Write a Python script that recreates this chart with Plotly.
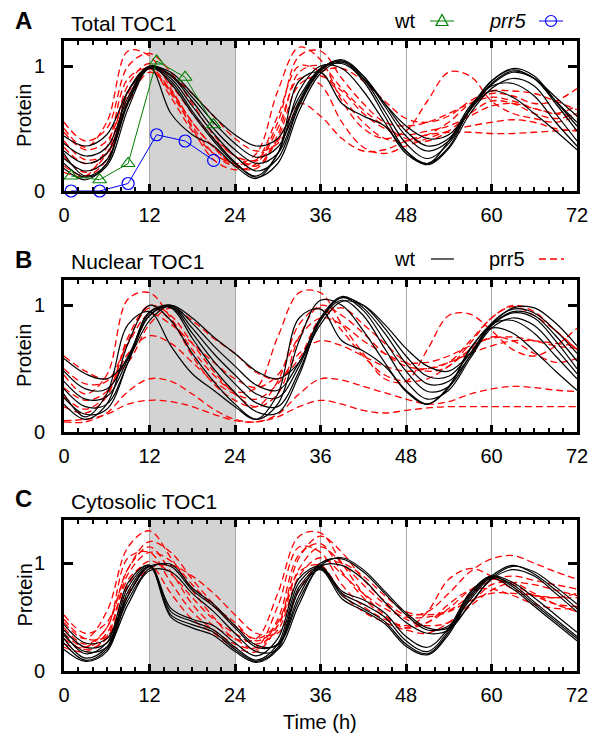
import plotly.graph_objects as go

W, H = 593, 738

# model time grid (h) and measured sampling times
T = list(range(0, 73, 3))
T_DATA = [1, 5, 9, 13, 17, 21]

# panel A: measured total TOC1
a_wt_data = [0.12, 0.09, 0.22, 1.04, 0.91, 0.53]
a_prr5_data = [0.0, 0.0, 0.06, 0.45, 0.40, 0.245]

# panel A: total TOC1, model fits (wt solid, prr5 dashed)
a_wt = [
    [0.30, 0.12, 0.22, 0.80, 0.99, 0.62, 0.45, 0.36, 0.20, 0.10, 0.30, 0.88, 0.95, 0.70, 0.60, 0.52, 0.32, 0.22, 0.35, 0.65, 0.80, 0.75, 0.62, 0.48, 0.33],
    [0.44, 0.36, 0.45, 0.80, 0.99, 0.95, 0.78, 0.60, 0.45, 0.36, 0.42, 0.75, 0.98, 1.02, 0.90, 0.70, 0.52, 0.42, 0.45, 0.65, 0.85, 0.95, 0.90, 0.75, 0.60],
    [0.38, 0.28, 0.35, 0.75, 1.00, 0.93, 0.75, 0.55, 0.38, 0.27, 0.35, 0.72, 0.98, 1.04, 0.92, 0.70, 0.48, 0.36, 0.42, 0.66, 0.88, 0.97, 0.90, 0.72, 0.55],
    [0.32, 0.22, 0.30, 0.72, 0.99, 0.92, 0.72, 0.50, 0.33, 0.22, 0.30, 0.70, 0.97, 1.05, 0.92, 0.68, 0.44, 0.32, 0.40, 0.66, 0.88, 0.98, 0.92, 0.72, 0.52],
    [0.26, 0.16, 0.25, 0.70, 0.99, 0.90, 0.68, 0.46, 0.28, 0.16, 0.26, 0.68, 0.96, 1.04, 0.90, 0.64, 0.38, 0.26, 0.38, 0.65, 0.86, 0.96, 0.90, 0.70, 0.48],
    [0.22, 0.11, 0.20, 0.66, 0.98, 0.88, 0.64, 0.42, 0.23, 0.11, 0.22, 0.64, 0.94, 1.03, 0.88, 0.60, 0.32, 0.21, 0.34, 0.62, 0.82, 0.90, 0.84, 0.62, 0.40],
    [0.18, 0.09, 0.22, 0.72, 1.00, 0.86, 0.62, 0.40, 0.22, 0.12, 0.30, 0.80, 1.00, 0.98, 0.80, 0.55, 0.30, 0.22, 0.40, 0.68, 0.84, 0.86, 0.76, 0.55, 0.36],
]
a_prr5 = [
    [0.50, 0.35, 0.55, 1.12, 1.08, 0.82, 0.55, 0.35, 0.22, 0.30, 0.80, 1.15, 1.05, 0.72, 0.50, 0.42, 0.48, 0.72, 0.95, 0.92, 0.72, 0.62, 0.58, 0.55, 0.60],
    [0.55, 0.40, 0.50, 1.00, 1.10, 0.95, 0.70, 0.45, 0.28, 0.25, 0.55, 1.08, 1.12, 0.90, 0.70, 0.55, 0.52, 0.55, 0.62, 0.70, 0.75, 0.72, 0.66, 0.62, 0.60],
    [0.40, 0.25, 0.30, 0.70, 0.95, 0.80, 0.50, 0.25, 0.17, 0.22, 0.50, 0.90, 0.85, 0.55, 0.35, 0.30, 0.36, 0.42, 0.48, 0.52, 0.55, 0.57, 0.55, 0.50, 0.48],
    [0.35, 0.22, 0.30, 0.75, 0.98, 0.75, 0.48, 0.30, 0.22, 0.24, 0.40, 0.70, 0.60, 0.42, 0.32, 0.33, 0.40, 0.45, 0.47, 0.47, 0.46, 0.46, 0.47, 0.48, 0.49],
    [0.47, 0.33, 0.40, 0.80, 1.00, 0.92, 0.78, 0.60, 0.42, 0.32, 0.38, 0.70, 0.95, 0.98, 0.88, 0.72, 0.58, 0.55, 0.60, 0.72, 0.80, 0.80, 0.78, 0.72, 0.65],
    [0.28, 0.15, 0.30, 0.85, 1.02, 0.85, 0.62, 0.42, 0.28, 0.20, 0.45, 0.95, 1.00, 0.82, 0.65, 0.52, 0.42, 0.40, 0.48, 0.62, 0.72, 0.70, 0.62, 0.58, 0.62],
    [0.20, 0.12, 0.25, 0.78, 0.99, 0.80, 0.55, 0.35, 0.20, 0.18, 0.42, 0.85, 0.92, 0.80, 0.62, 0.50, 0.45, 0.48, 0.52, 0.60, 0.68, 0.70, 0.66, 0.62, 0.68],
    [0.15, 0.12, 0.35, 0.90, 0.98, 0.78, 0.52, 0.30, 0.20, 0.25, 0.60, 1.00, 0.95, 0.75, 0.55, 0.42, 0.40, 0.45, 0.55, 0.70, 0.78, 0.76, 0.70, 0.72, 0.82],
]

# panel B: nuclear TOC1
b_wt = [
    [0.30, 0.12, 0.30, 0.85, 0.95, 0.68, 0.46, 0.33, 0.20, 0.10, 0.30, 0.90, 0.97, 0.72, 0.64, 0.52, 0.33, 0.22, 0.35, 0.66, 0.82, 0.78, 0.64, 0.48, 0.33],
    [0.58, 0.46, 0.42, 0.58, 0.88, 1.00, 0.90, 0.75, 0.62, 0.48, 0.42, 0.55, 0.85, 1.03, 1.00, 0.85, 0.66, 0.52, 0.48, 0.62, 0.85, 0.98, 0.98, 0.86, 0.68],
    [0.48, 0.34, 0.34, 0.60, 0.92, 1.00, 0.86, 0.68, 0.52, 0.37, 0.33, 0.55, 0.90, 1.06, 1.00, 0.82, 0.60, 0.44, 0.44, 0.62, 0.86, 0.97, 0.94, 0.80, 0.62],
    [0.40, 0.26, 0.28, 0.58, 0.94, 1.00, 0.82, 0.62, 0.45, 0.30, 0.27, 0.52, 0.90, 1.07, 0.98, 0.78, 0.54, 0.38, 0.40, 0.60, 0.84, 0.95, 0.92, 0.76, 0.56],
    [0.34, 0.20, 0.22, 0.55, 0.92, 0.99, 0.78, 0.56, 0.38, 0.23, 0.20, 0.48, 0.88, 1.06, 0.96, 0.72, 0.48, 0.32, 0.36, 0.60, 0.84, 0.94, 0.90, 0.72, 0.50],
    [0.27, 0.14, 0.18, 0.55, 0.95, 0.98, 0.74, 0.50, 0.31, 0.16, 0.15, 0.45, 0.88, 1.04, 0.92, 0.66, 0.40, 0.26, 0.33, 0.58, 0.82, 0.90, 0.84, 0.66, 0.46],
    [0.22, 0.10, 0.22, 0.70, 1.00, 0.88, 0.62, 0.40, 0.22, 0.10, 0.22, 0.72, 1.04, 1.00, 0.80, 0.55, 0.32, 0.22, 0.36, 0.65, 0.85, 0.88, 0.78, 0.60, 0.42],
]
b_prr5 = [
    [0.45, 0.30, 0.45, 1.05, 1.10, 0.90, 0.65, 0.45, 0.32, 0.35, 0.75, 1.10, 1.10, 0.85, 0.62, 0.42, 0.40, 0.65, 0.92, 0.93, 0.80, 0.65, 0.60, 0.68, 0.82],
    [0.60, 0.48, 0.42, 0.55, 0.85, 0.98, 0.88, 0.74, 0.62, 0.47, 0.42, 0.58, 0.90, 0.98, 0.85, 0.70, 0.55, 0.48, 0.52, 0.70, 0.90, 0.99, 0.92, 0.80, 0.65],
    [0.50, 0.38, 0.40, 0.70, 0.93, 0.85, 0.70, 0.55, 0.42, 0.35, 0.45, 0.75, 0.90, 0.85, 0.72, 0.62, 0.55, 0.55, 0.60, 0.68, 0.74, 0.75, 0.72, 0.68, 0.66],
    [0.35, 0.25, 0.32, 0.62, 0.76, 0.70, 0.55, 0.40, 0.30, 0.26, 0.38, 0.62, 0.72, 0.68, 0.60, 0.52, 0.48, 0.50, 0.55, 0.62, 0.68, 0.72, 0.72, 0.70, 0.68],
    [0.28, 0.18, 0.30, 0.72, 0.98, 0.88, 0.60, 0.38, 0.25, 0.20, 0.40, 0.85, 0.98, 0.80, 0.60, 0.45, 0.40, 0.42, 0.52, 0.65, 0.75, 0.72, 0.62, 0.55, 0.58],
    [0.20, 0.15, 0.28, 0.75, 1.00, 0.92, 0.70, 0.48, 0.30, 0.20, 0.30, 0.75, 1.00, 0.92, 0.78, 0.62, 0.52, 0.50, 0.55, 0.72, 0.90, 1.00, 0.95, 0.80, 0.65],
    [0.08, 0.08, 0.15, 0.32, 0.42, 0.40, 0.30, 0.18, 0.10, 0.08, 0.14, 0.30, 0.42, 0.41, 0.36, 0.31, 0.26, 0.22, 0.24, 0.30, 0.34, 0.36, 0.35, 0.33, 0.32],
    [0.09, 0.10, 0.14, 0.22, 0.25, 0.24, 0.20, 0.14, 0.09, 0.08, 0.12, 0.20, 0.25, 0.22, 0.17, 0.15, 0.17, 0.19, 0.20, 0.20, 0.20, 0.20, 0.20, 0.20, 0.20],
]

# panel C: cytosolic TOC1
c_wt = [
    [0.30, 0.12, 0.22, 0.78, 0.98, 0.55, 0.46, 0.38, 0.22, 0.10, 0.25, 0.82, 0.96, 0.72, 0.62, 0.50, 0.28, 0.18, 0.38, 0.72, 0.88, 0.78, 0.62, 0.46, 0.30],
    [0.26, 0.10, 0.20, 0.74, 0.97, 0.52, 0.43, 0.36, 0.20, 0.09, 0.22, 0.78, 0.95, 0.70, 0.58, 0.46, 0.25, 0.16, 0.36, 0.70, 0.87, 0.80, 0.64, 0.48, 0.32],
    [0.35, 0.16, 0.26, 0.82, 0.98, 0.58, 0.48, 0.42, 0.26, 0.14, 0.30, 0.86, 0.97, 0.74, 0.66, 0.54, 0.32, 0.22, 0.40, 0.73, 0.88, 0.82, 0.68, 0.52, 0.36],
    [0.20, 0.09, 0.18, 0.70, 0.97, 0.50, 0.40, 0.33, 0.18, 0.08, 0.20, 0.75, 0.94, 0.67, 0.56, 0.44, 0.23, 0.15, 0.34, 0.68, 0.86, 0.76, 0.60, 0.44, 0.28],
    [0.43, 0.26, 0.30, 0.70, 0.97, 0.97, 0.75, 0.60, 0.40, 0.22, 0.25, 0.70, 1.00, 1.04, 0.92, 0.72, 0.52, 0.38, 0.42, 0.66, 0.88, 0.98, 0.90, 0.75, 0.58],
    [0.38, 0.22, 0.26, 0.66, 0.95, 0.99, 0.77, 0.62, 0.42, 0.24, 0.24, 0.66, 0.98, 1.05, 0.94, 0.74, 0.54, 0.40, 0.40, 0.62, 0.86, 0.97, 0.92, 0.78, 0.62],
    [0.33, 0.18, 0.22, 0.62, 0.93, 0.92, 0.72, 0.55, 0.35, 0.18, 0.20, 0.62, 0.97, 0.98, 0.85, 0.64, 0.45, 0.35, 0.38, 0.62, 0.85, 0.94, 0.88, 0.72, 0.55],
]
c_prr5 = [
    [0.45, 0.30, 0.55, 1.15, 1.30, 1.05, 0.75, 0.50, 0.30, 0.30, 0.72, 1.25, 1.28, 1.00, 0.72, 0.52, 0.40, 0.55, 0.85, 0.95, 0.88, 0.76, 0.70, 0.68, 0.72],
    [0.52, 0.35, 0.45, 0.95, 1.20, 1.10, 0.85, 0.62, 0.42, 0.30, 0.45, 1.05, 1.25, 1.10, 0.85, 0.65, 0.52, 0.55, 0.72, 0.92, 1.04, 1.07, 1.00, 0.92, 0.85],
    [0.40, 0.25, 0.40, 1.05, 1.10, 0.82, 0.55, 0.38, 0.25, 0.22, 0.60, 1.15, 1.10, 0.80, 0.60, 0.48, 0.42, 0.45, 0.58, 0.75, 0.85, 0.80, 0.70, 0.62, 0.60],
    [0.35, 0.22, 0.35, 0.90, 1.10, 1.02, 0.80, 0.60, 0.45, 0.28, 0.42, 0.95, 1.15, 1.00, 0.80, 0.62, 0.48, 0.42, 0.45, 0.60, 0.75, 0.82, 0.80, 0.75, 0.70],
    [0.30, 0.20, 0.30, 0.80, 1.02, 0.90, 0.68, 0.48, 0.35, 0.25, 0.38, 0.88, 1.05, 0.90, 0.72, 0.58, 0.50, 0.50, 0.55, 0.65, 0.72, 0.72, 0.70, 0.68, 0.68],
    [0.25, 0.22, 0.40, 0.95, 1.15, 0.92, 0.62, 0.42, 0.30, 0.20, 0.48, 1.08, 1.18, 0.92, 0.68, 0.50, 0.40, 0.45, 0.62, 0.75, 0.76, 0.70, 0.62, 0.58, 0.58],
    [0.48, 0.30, 0.32, 0.72, 0.95, 0.98, 0.88, 0.72, 0.52, 0.35, 0.35, 0.75, 1.00, 1.00, 0.88, 0.70, 0.55, 0.52, 0.56, 0.70, 0.84, 0.88, 0.84, 0.80, 0.76],
    [0.22, 0.18, 0.32, 0.85, 0.98, 0.72, 0.48, 0.35, 0.22, 0.18, 0.42, 0.92, 0.98, 0.72, 0.55, 0.45, 0.38, 0.35, 0.45, 0.62, 0.80, 0.82, 0.72, 0.62, 0.55],
]

X_TICKS = [0, 12, 24, 36, 48, 60, 72]
Y_TICKS = [0, 1]

FONT = "Liberation Sans, Arial, sans-serif"


# window pixel -> paper coordinates
def px(x):
    return x / W


def py(y):
    return 1 - y / H


def note(text, x, y, size=20, **kw):
    fig.add_annotation(text=text, xref="paper", yref="paper", x=px(x), y=py(y),
                       xanchor=kw.pop("xanchor", "center"), yanchor="middle", showarrow=False,
                       font=dict(family=FONT, size=size, color="black"), **kw)


# plot areas in window pixels: (top, bottom, ymax)
panels = [
    (41, 191, 1.2, a_wt, a_prr5),
    (280, 432, 1.2, b_wt, b_prr5),
    (520, 671, 1.4, c_wt, c_prr5),
]

fig = go.Figure()

for i, (top, bot, ymax, wt, prr5) in enumerate(panels):
    n = "" if i == 0 else str(i + 1)
    xa, ya = "x" + n, "y" + n
    for ys in prr5:
        fig.add_trace(go.Scatter(
            x=T, y=ys, xaxis=xa, yaxis=ya, mode="lines",
            line=dict(color="#ff0000", width=1.3, dash="7px,4px", shape="spline", smoothing=1.0),
            showlegend=False, hoverinfo="skip"))
    for ys in wt:
        fig.add_trace(go.Scatter(
            x=T, y=ys, xaxis=xa, yaxis=ya, mode="lines",
            line=dict(color="black", width=1.2, shape="spline", smoothing=1.0),
            showlegend=False, hoverinfo="skip"))

    axis_common = dict(
        showline=True, linecolor="black", linewidth=3, mirror="ticks",
        ticks="inside", tickcolor="black", zeroline=False, automargin=False,
        tickfont=dict(family=FONT, size=20, color="black"),
    )
    fig.layout["xaxis" + n] = dict(
        axis_common, domain=[px(64), px(577)], anchor=ya, range=[0, 72],
        tickvals=X_TICKS, ticklen=7, tickwidth=2.5,
        showgrid=True, gridcolor="#a8a8a8", gridwidth=1,
        minor=dict(dtick=2, tick0=0, ticks="inside", ticklen=4, tickwidth=2, tickcolor="black", showgrid=False),
        ticklabelstandoff=4,
    )
    fig.layout["yaxis" + n] = dict(
        axis_common, domain=[py(bot), py(top)], anchor=xa, range=[0, ymax],
        tickvals=Y_TICKS, ticklen=9, tickwidth=2.5, showgrid=False,
        ticklabelstandoff=12,
    )
    # dark period shading
    fig.add_shape(type="rect", xref=xa, yref=ya + " domain", x0=12, x1=24, y0=0, y1=1,
                  fillcolor="#d3d3d3", line_width=0, layer="below")
    note("Protein", 24, (top + bot) / 2, textangle=-90)

# measured data in panel A
fig.add_trace(go.Scatter(
    x=T_DATA, y=a_wt_data, mode="lines+markers",
    line=dict(color="#008000", width=1),
    marker=dict(symbol="triangle-up-open", size=12, color="#008000", line=dict(width=1.2)),
    showlegend=False, hoverinfo="skip", cliponaxis=False))
fig.add_trace(go.Scatter(
    x=T_DATA, y=a_prr5_data, mode="lines+markers",
    line=dict(color="#0000ff", width=1),
    marker=dict(symbol="circle-open", size=12, color="#0000ff", line=dict(width=1.2)),
    showlegend=False, hoverinfo="skip", cliponaxis=False))

# panel letters and titles
for letter, title, yc in [("A", "Total TOC1", 21), ("B", "Nuclear TOC1", 259), ("C", "Cytosolic TOC1", 499)]:
    note("<b>" + letter + "</b>", 23, yc, size=24)
    note(title, 69, yc + 2, size=21, xanchor="left")

note("Time (h)", 320, 722)

# legends
note("wt", 404, 21)
note("<i>prr5</i>", 507, 21)
note("wt", 404, 259)
note("prr5", 507, 259)

fig.add_shape(type="line", xref="paper", yref="paper", x0=px(430), x1=px(454), y0=py(21), y1=py(21),
              line=dict(color="#008000", width=1))
fig.add_shape(type="path", xref="paper", yref="paper",
              path=f"M {px(436)},{py(25.5)} L {px(448)},{py(25.5)} L {px(442)},{py(14.5)} Z",
              line=dict(color="#008000", width=1.2))
fig.add_shape(type="line", xref="paper", yref="paper", x0=px(539), x1=px(563), y0=py(21), y1=py(21),
              line=dict(color="#0000ff", width=1))
fig.add_shape(type="circle", xref="paper", yref="paper", x0=px(545.5), x1=px(556.5), y0=py(26.5), y1=py(15.5),
              line=dict(color="#0000ff", width=1.2))
fig.add_shape(type="line", xref="paper", yref="paper", x0=px(431), x1=px(454), y0=py(259), y1=py(259),
              line=dict(color="black", width=1.2))
fig.add_shape(type="line", xref="paper", yref="paper", x0=px(539), x1=px(564), y0=py(259), y1=py(259),
              line=dict(color="#ff0000", width=1.3, dash="7px,4px"))

fig.update_layout(
    width=W, height=H, margin=dict(l=0, r=0, t=0, b=0, autoexpand=False),
    paper_bgcolor="white", plot_bgcolor="white",
    showlegend=False, font=dict(family=FONT, color="black"),
)

# drop the default body margin so the figure fills the window exactly
fig.write_html("out.html", config={"displayModeBar": False},
               post_script="document.body.style.margin='0';")
